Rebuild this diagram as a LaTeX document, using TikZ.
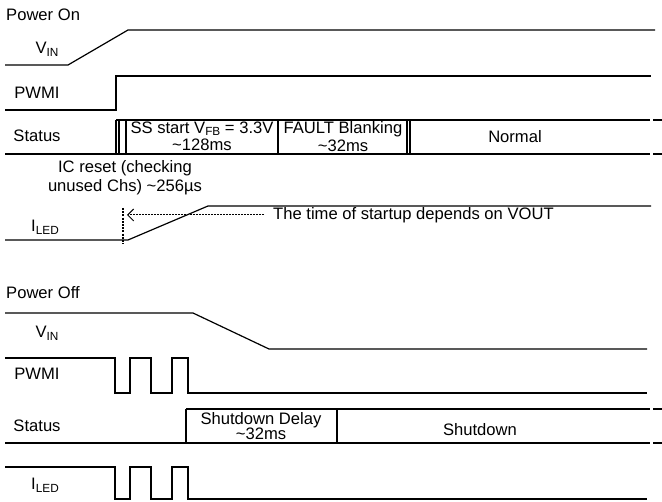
\documentclass[tikz,border=0pt]{standalone}
\usepackage{fontspec}
\setmainfont{Liberation Sans}
\usetikzlibrary{arrows.meta,positioning}
\newcommand{\lowsub}[1]{\raisebox{-2.5pt}{\fontsize{11.8}{12}\selectfont #1}}

\begin{document}
\begin{tikzpicture}[x=1pt,y=-1pt,
	wave/.style={line width=1.2pt},
	lbl/.style={font=\fontsize{16.6}{16}\selectfont, inner sep=0pt, anchor=base},
	twoline/.style={lbl, align=center, anchor=north}]
\useasboundingbox (0,0) rectangle (662,502);

%power on
\node[lbl, anchor=base west] (pon) at (6,21) {Power On};
\node[lbl] (onvin) at (47,54) {V\lowsub{IN}};
\node[lbl] (onpwmi) at (37,99) {PWMI};
\node[lbl] (onstat) at (37,142) {Status};
\node[lbl] (onled) at (45,232) {I\lowsub{LED}};

\draw[wave] (5,65) -- (68,65) -- (128,30) -- (655,30);
\draw[wave] (5,110) -- (116,110) -- (116,76) -- (651,76);

\draw[wave] (5,154) -- (650,154);
\draw[wave] (116,120) -- (650,120);
\draw[wave] (653,120) -- (662,120) (653,154) -- (662,154);
\foreach \x in {116,119,126,278,407,410}
	\draw[wave] (\x,120) -- (\x,154);
\node[twoline] (ssstart) at (202,121.5) {SS start V\lowsub{FB} = 3.3V\\[1.5pt]\textasciitilde128ms};
\node[twoline] (blank) at (343,121.5) {FAULT Blanking\\[1.5pt]\textasciitilde32ms};
\node[lbl] (normal) at (515,143) {Normal};
\node[twoline] (icreset) at (125,160) {IC reset (checking\\[3pt]unused Chs) \textasciitilde256µs};

\draw[wave] (5,240) -- (128,240) -- (208,206) -- (651,206);
\coordinate (marktop) at (123,208);
\coordinate (markbot) at (123,244);
\coordinate (markarr) at (127,215);
\draw[line width=1.2pt, dash pattern=on 2pt off 1.2pt] (marktop) -- (markbot);
\node[lbl, anchor=west] (startup) at (273,215) {The time of startup depends on VOUT};
\draw[line width=1pt, dash pattern=on 2pt off 1pt, -{Straight Barb[length=6pt,width=12pt]}] ([xshift=-9pt]startup.west) -- (markarr);

%power off
\node[lbl, anchor=base west] (poff) at (6,299) {Power Off};
\node[lbl] (offvin) at (47,338) {V\lowsub{IN}};
\node[lbl] (offpwmi) at (37,380) {PWMI};
\node[lbl] (offstat) at (37,432) {Status};
\node[lbl] (offled) at (45,490) {I\lowsub{LED}};

\draw[wave] (5,313) -- (193,313) -- (269,349) -- (647,349);
\draw[wave] (5,358) -- (115,358) -- (115,393) -- (130,393) -- (130,358) -- (151,358) -- (151,393)
	-- (172,393) -- (172,358) -- (188,358) -- (188,393) -- (647,393);

\draw[wave] (5,443) -- (650,443);
\draw[wave] (186,409) -- (650,409);
\draw[wave] (653,409) -- (662,409) (653,443) -- (662,443);
\foreach \x in {186,337}
	\draw[wave] (\x,409) -- (\x,443);
\node[twoline] (sddelay) at (261,412) {Shutdown Delay\\[-1pt]\textasciitilde32ms};
\node[lbl] (sd) at (480,436) {Shutdown};

\draw[wave] (5,467) -- (115,467) -- (115,499) -- (130,499) -- (130,467) -- (151,467) -- (151,499)
	-- (172,499) -- (172,467) -- (188,467) -- (188,499) -- (647,499);

\end{tikzpicture}
\end{document}
